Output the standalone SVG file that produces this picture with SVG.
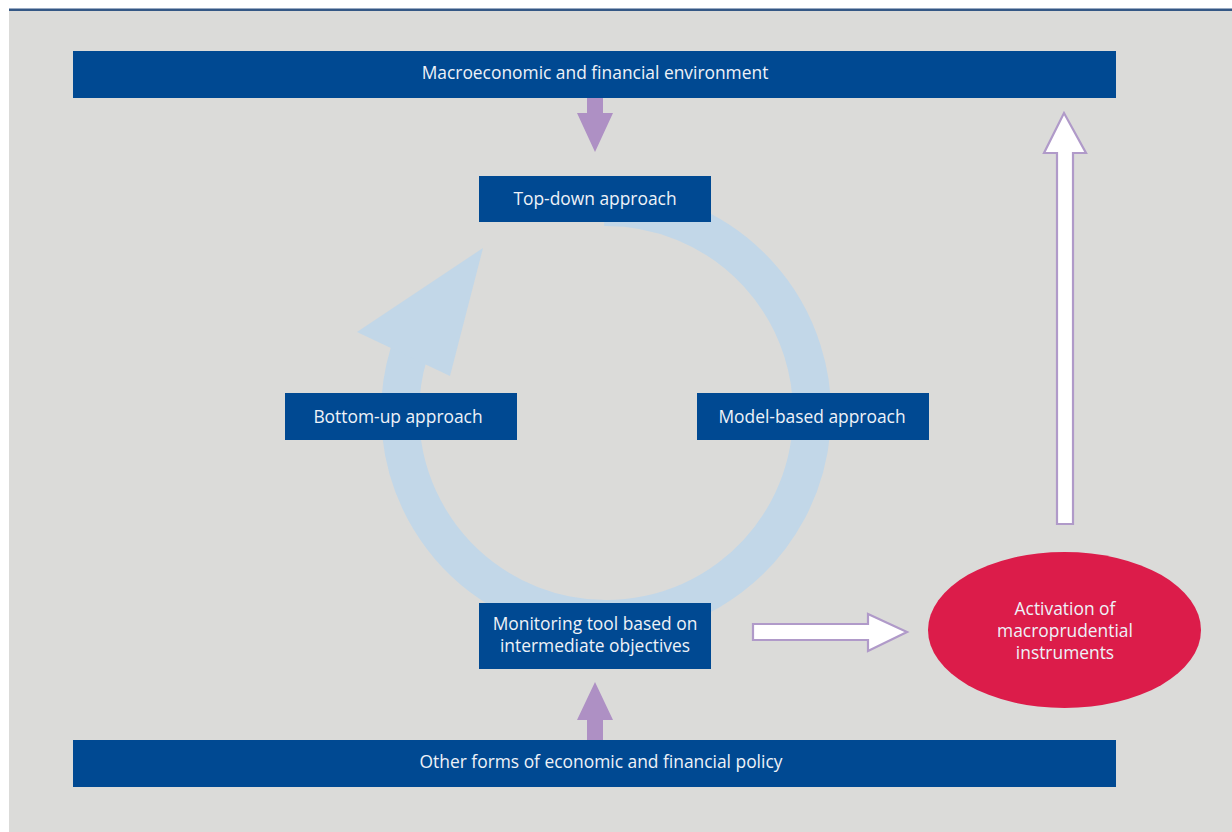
<svg xmlns="http://www.w3.org/2000/svg" width="1232" height="832" viewBox="0 0 1232 832">
  <style>
    .box { fill: #004992; }
    .lbl { font-family: "Open Sans", "Liberation Sans", sans-serif; font-size: 17.4px; fill: #eef2f8; text-anchor: middle; }
    .push { fill: #ae90c4; }
    .out { fill: #ffffff; stroke: #b09ac9; stroke-width: 2.2; }
  </style>

  <!-- page panel -->
  <rect x="0" y="0" width="1232" height="832" fill="#ffffff"/>
  <rect x="9" y="10" width="1223" height="822" fill="#dbdbd9"/>
  <rect x="9" y="8.5" width="1223" height="2.5" fill="#345785"/>

  <!-- connectors -->
  <g id="connectors">
    <!-- cycle ring -->
    <path d="M 604 207 A 206 206 0 1 1 409 353" fill="none" stroke="#c2d7e8" stroke-width="38"/>
    <polygon points="483,248 357,332 450,376" fill="#c2d7e8"/>
    <!-- environment into top-down -->
    <polygon class="push" points="587,98 603,98 603,113 613,113 595,152 577,113 587,113"/>
    <!-- policy into monitoring -->
    <polygon class="push" points="587,740 603,740 603,720 613,720 595,682 577,720 587,720"/>
    <!-- monitoring to activation -->
    <polygon class="out" points="753,624 868,624 868,614 907,632 868,651 868,640 753,640"/>
    <!-- activation back to environment -->
    <polygon class="out" points="1057,524 1057,153 1044,153 1064,113 1086,153 1073,153 1073,524"/>
  </g>

  <g id="env">
    <rect class="box" x="73" y="51" width="1043" height="47"/>
    <text class="lbl" x="595" y="79">Macroeconomic and financial environment</text>
  </g>

  <g id="topdown">
    <rect class="box" x="479" y="176" width="232" height="46"/>
    <text class="lbl" x="595" y="205">Top-down approach</text>
  </g>

  <g id="bottomup">
    <rect class="box" x="285" y="393" width="232" height="47"/>
    <text class="lbl" x="398" y="423">Bottom-up approach</text>
  </g>

  <g id="modelbased">
    <rect class="box" x="697" y="393" width="232" height="47"/>
    <text class="lbl" x="812" y="423">Model-based approach</text>
  </g>

  <g id="monitoring">
    <rect class="box" x="479" y="603" width="232" height="66"/>
    <text class="lbl" x="595" y="630">Monitoring tool based on</text>
    <text class="lbl" x="595" y="652">intermediate objectives</text>
  </g>

  <g id="activation">
    <ellipse cx="1064.5" cy="630" rx="136.5" ry="78" fill="#dc1c4a"/>
    <text class="lbl" x="1065" y="615" fill="#f8e3e8">Activation of</text>
    <text class="lbl" x="1065" y="637">macroprudential</text>
    <text class="lbl" x="1065" y="659">instruments</text>
  </g>

  <g id="policy">
    <rect class="box" x="73" y="740" width="1043" height="47"/>
    <text class="lbl" x="601" y="768">Other forms of economic and financial policy</text>
  </g>
</svg>
